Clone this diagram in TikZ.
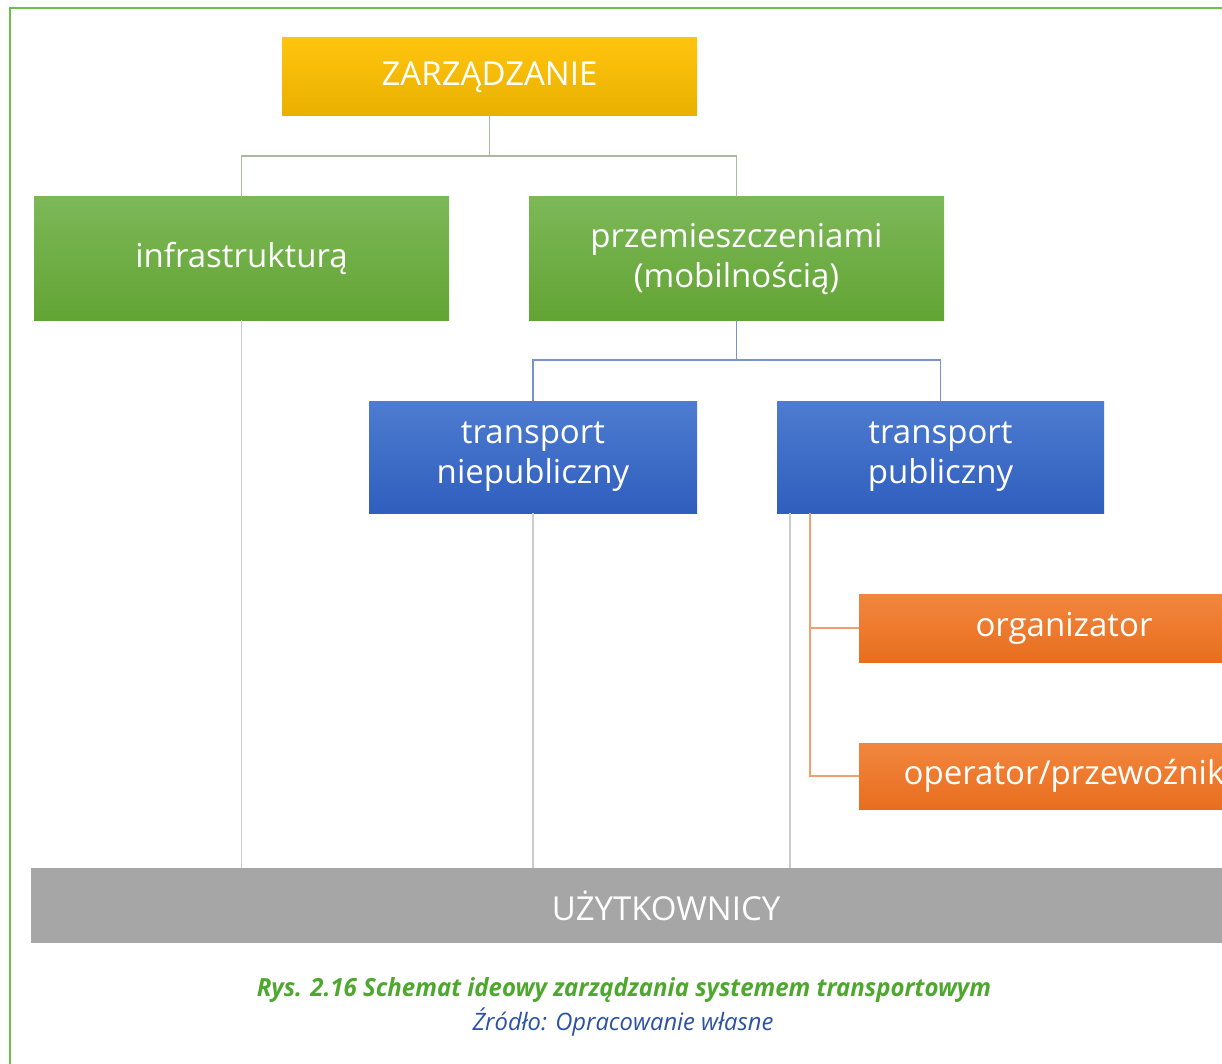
\documentclass[tikz,border=0pt]{standalone}
\usepackage{fontspec}
\setmainfont{Open Sans}
\usetikzlibrary{positioning,calc}
\definecolor{FrameGreen}{RGB}{108, 192, 74}
\definecolor{TopYellow}{RGB}{255, 196, 14}
\definecolor{BotYellow}{RGB}{232, 176, 0}
\definecolor{TopGreen}{RGB}{125, 184, 88}
\definecolor{BotGreen}{RGB}{98, 164, 52}
\definecolor{TopBlue}{RGB}{78, 124, 208}
\definecolor{BotBlue}{RGB}{47, 94, 190}
\definecolor{TopOrange}{RGB}{242, 134, 62}
\definecolor{BotOrange}{RGB}{232, 110, 30}
\definecolor{UserGray}{RGB}{166, 166, 166}
\definecolor{CaptionGreen}{RGB}{78, 168, 46}
\definecolor{CaptionBlue}{RGB}{44, 82, 164}
\definecolor{LinkGreen}{RGB}{168, 186, 158}
\definecolor{LinkBlue}{RGB}{122, 146, 204}
\definecolor{LinkGray}{RGB}{204, 204, 204}
\definecolor{LinkOrange}{RGB}{240, 160, 112}

\tikzset{
  box/.style={minimum width=415pt, minimum height=123pt, inner sep=0pt,
    align=center, text=white, font=\fontsize{33}{40}\selectfont},
  linkgreen/.style={draw=LinkGreen, line width=1.5pt},
  linkblue/.style={draw=LinkBlue, line width=1.5pt},
  linkgray/.style={draw=LinkGray, line width=1.8pt},
  linkorange/.style={draw=LinkOrange, line width=1.5pt}
}

\begin{document}
\begin{tikzpicture}[x=1pt, y=-1pt]
  \useasboundingbox (0,0) rectangle (1222,1064);
  \clip (0,0) rectangle (1222,1064);
  \fill[white] (0,0) rectangle (1222,1064);

  % Frame
  \draw[FrameGreen, line width=2pt] (10,1080) -- (10,8) -- (1240,8);

  % Boxes
  \node[box, top color=TopYellow, bottom color=BotYellow, minimum height=78pt]
    (zarz) at (489.5,77) {ZARZĄDZANIE};
  \node[box, top color=TopGreen, bottom color=BotGreen]
    (infra) at (241.5,258.5) {infrastrukturą};
  \node[box, top color=TopGreen, bottom color=BotGreen]
    (przem) at (736.5,258.5) {przemieszczeniami\\(mobilnością)};
  \node[box, top color=TopBlue, bottom color=BotBlue, minimum width=328pt, minimum height=112pt]
    (niepub) at (533,457) {transport\\niepubliczny};
  \node[box, top color=TopBlue, bottom color=BotBlue, minimum width=327pt, minimum height=112pt]
    (publ) at (940.5,457) {transport\\publiczny};
  \node[box, top color=TopOrange, bottom color=BotOrange, minimum width=410pt, minimum height=68pt]
    (org) at (1064,628) {organizator};
  \node[box, top color=TopOrange, bottom color=BotOrange, minimum width=410pt, minimum height=66pt]
    (oper) at (1064,776) {operator/przewoźnik};
  \node[box, fill=UserGray, minimum width=1270pt, minimum height=75pt]
    (uzyt) at (666,905.5) {UŻYTKOWNICY};

  % Connectors
  \draw[linkgreen] (zarz.south) -- ++(0,40) -| (infra.north);
  \draw[linkgreen] (zarz.south) -- ++(0,40) -| (przem.north);
  \draw[linkblue] (przem.south) -- ++(0,40) -| (niepub.north);
  \draw[linkblue] (przem.south) -- ++(0,40) -| (publ.north);
  \draw[linkgray] (infra.south) -- (infra.south |- uzyt.north);
  \draw[linkgray] (niepub.south) -- (niepub.south |- uzyt.north);
  \draw[linkgray] ([xshift=13pt]publ.south west) -- ([xshift=13pt]publ.south west |- uzyt.north);
  \draw[linkorange] ([xshift=33pt]publ.south west) |- (org.west);
  \draw[linkorange] ([xshift=33pt]publ.south west) |- (oper.west);

  % Caption
  \node[CaptionGreen, font=\fontsize{25}{30}\selectfont\bfseries\itshape\addfontfeatures{FakeStretch=0.96}]
    (rys) at (624,990) {Rys. 2.16 Schemat ideowy zarządzania systemem transportowym};
  \node[CaptionBlue, font=\fontsize{24}{29}\selectfont\itshape\addfontfeatures{FakeStretch=0.99}]
    (zrodlo) at (623,1022) {Źródło: Opracowanie własne};
\end{tikzpicture}
\end{document}
